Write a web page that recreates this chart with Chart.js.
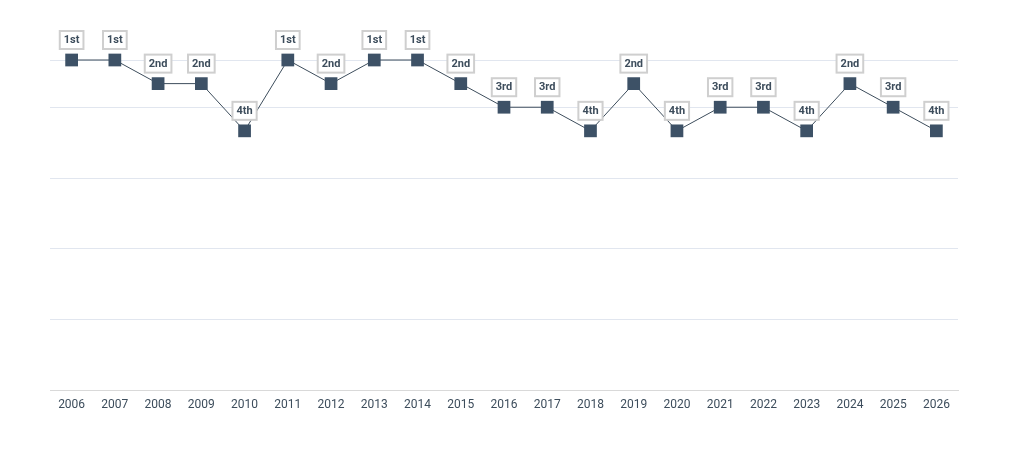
<!DOCTYPE html>
<html>
<head>
<meta charset="utf-8">
<script src="https://cdn.jsdelivr.net/npm/chart.js@4"></script>
<style>
  html, body { margin: 0; padding: 0; background: #fff; }
  #wrap { width: 1009px; height: 460px; }
</style>
</head>
<body>
<div id="wrap"><canvas id="rankChart"></canvas></div>
<script>
/* ======================================
   DATA
====================================== */
const years = ["2006", "2007", "2008", "2009", "2010", "2011", "2012", "2013", "2014", "2015",
               "2016", "2017", "2018", "2019", "2020", "2021", "2022", "2023", "2024", "2025", "2026"];
const ranks = [1, 1, 2, 2, 4, 1, 2, 1, 1, 2, 3, 3, 4, 2, 4, 3, 3, 4, 2, 3, 4];
const rankLabels = ["", "1st", "2nd", "3rd", "4th"];

const INK = "#3d4d5c";

/* ======================================
   LABEL BOXES ABOVE EACH POINT
====================================== */
const rankBoxes = {
    id: "rankBoxes",
    afterDatasetsDraw(chart) {
        const ctx = chart.ctx;
        const meta = chart.getDatasetMeta(0);
        ctx.save();
        ctx.font = "bold 11px Roboto";
        ctx.textAlign = "center";
        ctx.textBaseline = "middle";
        meta.data.forEach((pt, i) => {
            const text = rankLabels[ranks[i]];
            const w = Math.max(ctx.measureText(text).width + 8, 23);
            const h = 18;
            const cx = pt.x;
            const cy = pt.y - 20;
            ctx.fillStyle = "#ffffff";
            ctx.fillRect(cx - w / 2, cy - h / 2, w, h);
            ctx.lineWidth = 2;
            ctx.strokeStyle = "#cfcfcf";
            ctx.strokeRect(cx - w / 2, cy - h / 2, w, h);
            ctx.fillStyle = INK;
            ctx.fillText(text, cx, cy + 0.5);
        });
        ctx.restore();
    }
};

/* ======================================
   CHART
====================================== */
const ctx = document.getElementById("rankChart").getContext("2d");

new Chart(ctx, {
    type: "line",
    data: {
        labels: years,
        datasets: [{
            data: ranks,
            borderColor: INK,
            borderWidth: 1,
            backgroundColor: "#3d5166",
            pointBackgroundColor: "#3d5166",
            pointBorderWidth: 0,
            pointStyle: "rect",
            pointRadius: 9,
            pointHoverRadius: 9,
            tension: 0,
            clip: false
        }]
    },
    options: {
        responsive: true,
        maintainAspectRatio: false,
        animation: false,
        layout: { padding: { left: 50, right: 51, top: 60, bottom: 41 } },
        plugins: {
            legend: { display: false },
            tooltip: { enabled: false }
        },
        scales: {
            x: {
                offset: true,
                grid: { display: false, drawTicks: false },
                border: { display: true, color: "#d9d9d9", width: 1 },
                ticks: {
                    color: INK,
                    font: { family: "Roboto", size: 12 },
                    padding: 7,
                    maxRotation: 0,
                    autoSkip: false
                }
            },
            y: {
                reverse: true,
                min: 1,
                max: 15,
                ticks: { display: false, stepSize: 3 },
                grid: { color: "#e1e6ef", drawTicks: false },
                border: { display: false }
            }
        }
    },
    plugins: [rankBoxes]
});
</script>
</body>
</html>
